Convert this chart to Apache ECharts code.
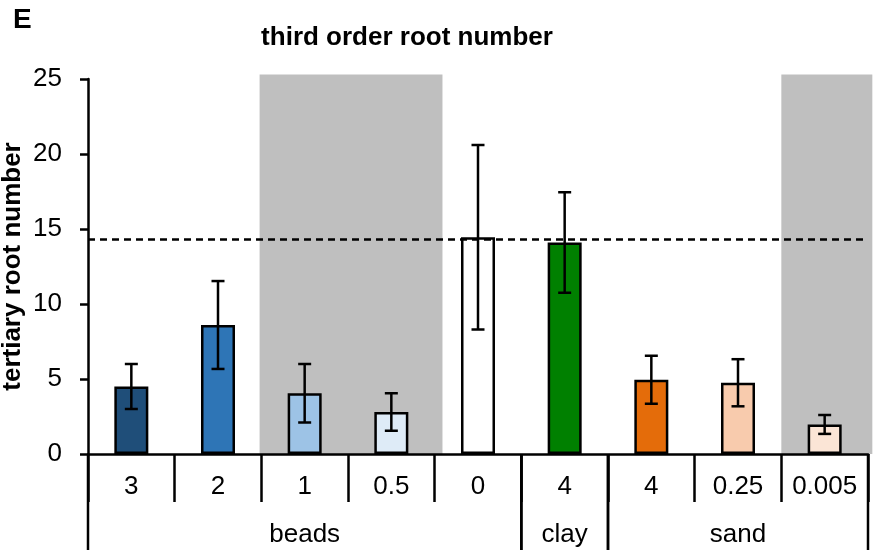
<!DOCTYPE html>
<html>
<head>
<meta charset="utf-8">
<script src="https://cdn.jsdelivr.net/npm/echarts@6/dist/echarts.min.js"></script>
<style>
  html, body { margin: 0; padding: 0; background: #fff; }
  #chart { width: 879px; height: 553px; }
</style>
</head>
<body>
<div id="chart"></div>
<script>
// Tertiary (third order) root number per substrate treatment
const categories = ['3', '2', '1', '0.5', '0', '4', '4', '0.25', '0.005'];
const means = [4.5, 8.6, 4.05, 2.8, 14.45, 14.1, 4.95, 4.75, 1.97];
const errors = [1.5, 2.93, 1.95, 1.25, 6.15, 3.35, 1.6, 1.57, 0.63];

// substrate groups (category index ranges) and their names
const groupNames = ['beads', 'clay', 'sand'];
const groupSpans = [[0, 5], [5, 6], [6, 9]];

// grey shaded treatments, in category units along the x axis
const shadedSpans = [[1.98, 4.09], [8.0, 9.05]];
const shadedTop = 25.3;

// dashed reference level
const referenceLevel = 14.3;

const yTicks = [0, 5, 10, 15, 20, 25];

const barColors = ['#1f4e79', '#2e75b6', '#9dc3e6', '#deebf7', '#ffffff',
                   '#008000', '#e46c0a', '#f8cbad', '#fbe5d6'];

const FONT = 'Arial, "Liberation Sans", sans-serif';
const LW = 2.5;

const chart = echarts.init(document.getElementById('chart'), null, { renderer: 'canvas' });

const option = {
  animation: false,
  backgroundColor: '#fff',
  grid: { left: 88, right: 11, top: 79, bottom: 99, containLabel: false, outerBoundsMode: 'none' },
  graphic: [
    { type: 'text', left: 13, top: 6,
      style: { text: 'E', fill: '#000', fontSize: 28, fontWeight: 'bold', fontFamily: FONT } },
    { type: 'text', x: 407, y: 38,
      style: { text: 'third order root number', fill: '#000', fontSize: 26, fontWeight: 'bold',
               fontFamily: FONT, align: 'center', verticalAlign: 'middle' } }
  ],
  xAxis: [
    {
      type: 'category', data: categories, boundaryGap: true, z: 5,
      axisLine: { show: true, lineStyle: { color: '#000', width: LW } },
      axisTick: { show: true, interval: 0, length: 48, lineStyle: { color: '#000', width: LW } },
      axisLabel: { interval: 0, margin: 20, color: '#000', fontSize: 26, fontFamily: FONT },
      splitLine: { show: false }
    },
    { type: 'value', min: 0, max: 9, show: false }
  ],
  yAxis: {
    type: 'value', min: yTicks[0], max: yTicks[yTicks.length - 1], interval: 5, z: 5,
    name: 'tertiary root number', nameLocation: 'middle', nameGap: 62, nameRotate: 90,
    nameMoveOverlap: false,
    nameTextStyle: { color: '#000', fontSize: 26, fontWeight: 'bold', fontFamily: FONT },
    axisLine: { show: true, lineStyle: { color: '#000', width: LW } },
    axisTick: { show: true, inside: false, length: 8, lineStyle: { color: '#000', width: LW } },
    axisLabel: { margin: 26, color: '#000', fontSize: 26, fontFamily: FONT },
    splitLine: { show: false }
  },
  series: [
    {
      // grey shaded treatment columns
      type: 'custom', xAxisIndex: 1, yAxisIndex: 0, z: 0, silent: true,
      encode: { x: [0, 1] },
      data: shadedSpans,
      renderItem: function (params, api) {
        const p0 = api.coord([api.value(0), 0]);
        const p1 = api.coord([api.value(1), shadedTop]);
        return {
          type: 'rect',
          shape: { x: p0[0], y: p1[1], width: p1[0] - p0[0], height: p0[1] - p1[1] },
          style: { fill: '#bfbfbf' }
        };
      }
    },
    {
      type: 'bar', xAxisIndex: 0, yAxisIndex: 0, z: 2, barWidth: 34,
      data: means.map((v, i) => ({ value: v, itemStyle: { color: barColors[i] } })),
      itemStyle: { borderColor: '#000', borderWidth: LW },
      markLine: {
        silent: true, symbol: 'none', z: 4,
        label: { show: false },
        lineStyle: { color: '#000', width: LW, type: [7, 5] },
        data: [{ yAxis: referenceLevel }]
      }
    },
    {
      // error bars
      type: 'custom', xAxisIndex: 0, yAxisIndex: 0, z: 3, silent: true,
      encode: { x: 0, y: [1, 2] },
      data: means.map((m, i) => [i, m - errors[i], m + errors[i]]),
      renderItem: function (params, api) {
        const lo = api.coord([api.value(0), api.value(1)]);
        const hi = api.coord([api.value(0), api.value(2)]);
        const cap = 6.5;
        const st = { stroke: '#000', lineWidth: LW };
        return {
          type: 'group',
          children: [
            { type: 'line', shape: { x1: lo[0], y1: lo[1], x2: hi[0], y2: hi[1] }, style: st },
            { type: 'line', shape: { x1: hi[0] - cap, y1: hi[1], x2: hi[0] + cap, y2: hi[1] }, style: st },
            { type: 'line', shape: { x1: lo[0] - cap, y1: lo[1], x2: lo[0] + cap, y2: lo[1] }, style: st }
          ]
        };
      }
    },
    {
      // substrate group separators and names below the axis
      type: 'custom', xAxisIndex: 1, yAxisIndex: 0, z: 5, silent: true,
      encode: { x: [0, 1] },
      data: groupSpans,
      renderItem: function (params, api) {
        const a = api.coord([api.value(0), 0]);
        const b = api.coord([api.value(1), 0]);
        const drop = 96;
        const st = { stroke: '#000', lineWidth: LW };
        return {
          type: 'group',
          children: [
            { type: 'line', shape: { x1: a[0], y1: a[1], x2: a[0], y2: a[1] + drop }, style: st },
            { type: 'line', shape: { x1: b[0], y1: b[1], x2: b[0], y2: b[1] + drop }, style: st },
            { type: 'text', x: (a[0] + b[0]) / 2, y: a[1] + 81,
              style: { text: groupNames[params.dataIndex], fill: '#000', fontSize: 26,
                       fontFamily: FONT, align: 'center', verticalAlign: 'middle' } }
          ]
        };
      }
    }
  ]
};

chart.setOption(option);
</script>
</body>
</html>
